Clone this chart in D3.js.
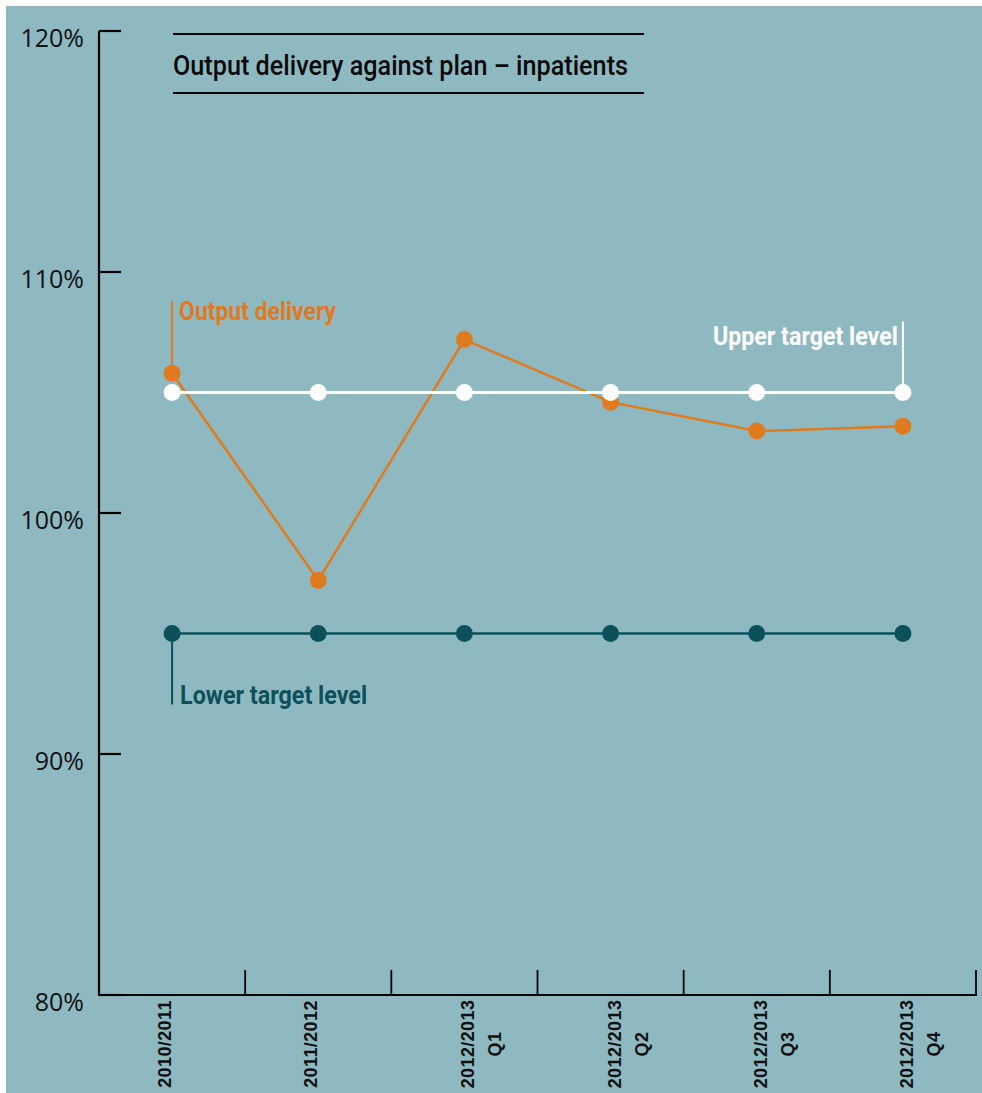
<!DOCTYPE html>
<html>
<head>
<meta charset="utf-8">
<script src="https://cdn.jsdelivr.net/npm/d3@7"></script>
<style>
  html, body { margin: 0; padding: 0; background: #ffffff; }
  svg { display: block; }
</style>
</head>
<body>
<svg id="chart" width="982" height="1093"></svg>
<script>
// ---- data ----
const categories = ["2010/2011", "2011/2012", "2012/2013|Q1", "2012/2013|Q2", "2012/2013|Q3", "2012/2013|Q4"];
const outputDelivery = [105.8, 97.2, 107.2, 104.6, 103.4, 103.6];
const upperTarget = [105, 105, 105, 105, 105, 105];
const lowerTarget = [95, 95, 95, 95, 95, 95];
const yTicks = [80, 90, 100, 110, 120];
const yTickLabels = ["80%", "90%", "100%", "110%", "120%"];
const titleText = "Output delivery against plan \u2013 inpatients";
const seriesNames = ["Output delivery", "Upper target level", "Lower target level"];

// ---- styles ----
const bg = "#8fb9c1";
const orange = "#e07a1f";
const teal = "#0c505a";
const white = "#ffffff";

const svg = d3.select("#chart");
svg.append("rect").attr("x", 6).attr("y", 6).attr("width", 976).attr("height", 1087).attr("fill", bg);

const x = d3.scalePoint().domain(categories).range([99, 976]).padding(0.5);
const y = d3.scaleLinear().domain([80, 120]).range([995, 31]);
const step = x.step();

// y axis
svg.append("line").attr("x1", 99).attr("x2", 99).attr("y1", y(120)).attr("y2", y(80))
  .attr("stroke", "#000").attr("stroke-width", 2.2);
svg.selectAll(".ytick").data(yTicks).enter().append("line")
  .attr("x1", 99).attr("x2", 121).attr("y1", d => y(d)).attr("y2", d => y(d))
  .attr("stroke", "#000").attr("stroke-width", 2.2);
svg.selectAll(".ylab").data(yTicks).enter().append("text")
  .attr("x", 84).attr("y", d => y(d) + 16)
  .attr("text-anchor", "end")
  .attr("font-family", "Open Sans, sans-serif").attr("font-size", 25)
  .attr("fill", "#111")
  .text((d, i) => yTickLabels[i]);

// x axis
svg.append("line").attr("x1", 98).attr("x2", 977).attr("y1", y(80)).attr("y2", y(80))
  .attr("stroke", "#000").attr("stroke-width", 2.2);
svg.selectAll(".xtick").data(categories).enter().append("line")
  .attr("x1", d => x(d) + step / 2).attr("x2", d => x(d) + step / 2)
  .attr("y1", y(80) - 25).attr("y2", y(80))
  .attr("stroke", "#000").attr("stroke-width", 1.8);

// x labels (rotated)
const xl = svg.selectAll(".xlab").data(categories).enter().append("g")
  .attr("transform", d => {
    const lines = d.split("|").length;
    const cx = lines === 1 ? x(d) - 7 : x(d) + 4;
    return `translate(${cx},1044) rotate(-90)`;
  });
xl.each(function(d) {
  const g = d3.select(this);
  d.split("|").forEach((t, i) => {
    g.append("text")
      .attr("x", 0).attr("y", 6 + i * 27)
      .attr("text-anchor", "middle")
      .attr("font-family", "'Liberation Sans', Arial, sans-serif")
      .attr("font-weight", "bold").attr("font-size", 18)
      .attr("letter-spacing", 0.4)
      .attr("fill", "#111")
      .text(t);
  });
});

// title
svg.append("line").attr("x1", 173).attr("x2", 644).attr("y1", 34).attr("y2", 34).attr("stroke", "#000").attr("stroke-width", 2.2);
svg.append("line").attr("x1", 173).attr("x2", 644).attr("y1", 93).attr("y2", 93).attr("stroke", "#000").attr("stroke-width", 2.2);
svg.append("text").attr("x", 173).attr("y", 75)
  .attr("font-family", "Roboto, sans-serif").attr("font-weight", 500).attr("font-size", 27)
  .attr("textLength", 455).attr("lengthAdjust", "spacingAndGlyphs")
  .attr("fill", "#0a0a0a").text(titleText);

const line = d3.line().x((d, i) => x(categories[i])).y(d => y(d));

function drawSeries(values, color, width) {
  svg.append("path").datum(values).attr("d", line)
    .attr("fill", "none").attr("stroke", color).attr("stroke-width", width);
  svg.selectAll(null).data(values).enter().append("circle")
    .attr("cx", (d, i) => x(categories[i])).attr("cy", d => y(d)).attr("r", 8.5)
    .attr("fill", color);
}

// leaders + labels
// Output delivery
svg.append("line").attr("x1", x(categories[0])).attr("x2", x(categories[0]))
  .attr("y1", y(outputDelivery[0])).attr("y2", y(outputDelivery[0]) - 72)
  .attr("stroke", orange).attr("stroke-width", 2);
svg.append("text").attr("x", x(categories[0]) + 7).attr("y", y(outputDelivery[0]) - 53)
  .attr("font-family", "Roboto, sans-serif").attr("font-weight", 700).attr("font-size", 25)
  .attr("textLength", 157).attr("lengthAdjust", "spacingAndGlyphs")
  .attr("fill", orange).text(seriesNames[0]);

// Upper target
const lastC = categories[categories.length - 1];
svg.append("line").attr("x1", x(lastC)).attr("x2", x(lastC))
  .attr("y1", y(upperTarget[5])).attr("y2", y(upperTarget[5]) - 71)
  .attr("stroke", white).attr("stroke-width", 2);
svg.append("text").attr("x", x(lastC) - 5).attr("y", y(upperTarget[5]) - 48)
  .attr("text-anchor", "end")
  .attr("font-family", "Roboto, sans-serif").attr("font-weight", 700).attr("font-size", 25)
  .attr("textLength", 185).attr("lengthAdjust", "spacingAndGlyphs")
  .attr("fill", white).text(seriesNames[1]);

// Lower target
svg.append("line").attr("x1", x(categories[0])).attr("x2", x(categories[0]))
  .attr("y1", y(lowerTarget[0])).attr("y2", y(lowerTarget[0]) + 71)
  .attr("stroke", teal).attr("stroke-width", 2);
svg.append("text").attr("x", x(categories[0]) + 8).attr("y", y(lowerTarget[0]) + 70)
  .attr("font-family", "Roboto, sans-serif").attr("font-weight", 700).attr("font-size", 25)
  .attr("textLength", 187).attr("lengthAdjust", "spacingAndGlyphs")
  .attr("fill", teal).text(seriesNames[2]);

drawSeries(outputDelivery, orange, 2.5);
drawSeries(upperTarget, white, 3);
drawSeries(lowerTarget, teal, 2.5);
</script>
</body>
</html>
